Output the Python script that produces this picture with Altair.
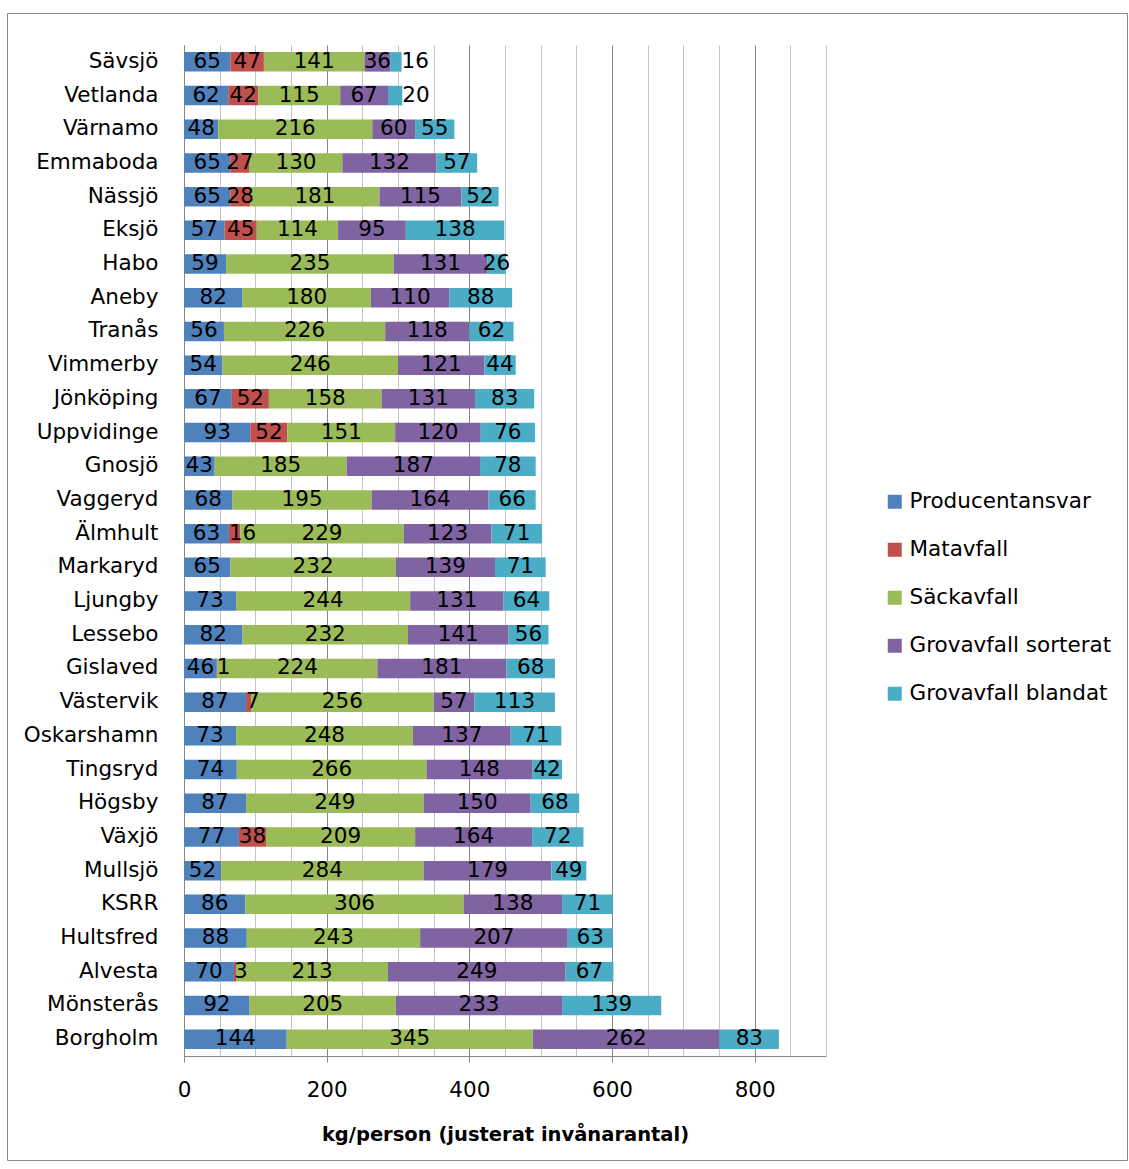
import altair as alt
import pandas as pd

# Municipalities, top to bottom
kommuner = [
    "Sävsjö", "Vetlanda", "Värnamo", "Emmaboda", "Nässjö", "Eksjö", "Habo",
    "Aneby", "Tranås", "Vimmerby", "Jönköping", "Uppvidinge", "Gnosjö",
    "Vaggeryd", "Älmhult", "Markaryd", "Ljungby", "Lessebo", "Gislaved",
    "Västervik", "Oskarshamn", "Tingsryd", "Högsby", "Växjö", "Mullsjö",
    "KSRR", "Hultsfred", "Alvesta", "Mönsterås", "Borgholm",
]

# kg per person for each waste fraction (0 = not collected)
producentansvar = [65, 62, 48, 65, 65, 57, 59, 82, 56, 54, 67, 93, 43, 68, 63,
                   65, 73, 82, 46, 87, 73, 74, 87, 77, 52, 86, 88, 70, 92, 144]
matavfall = [47, 42, 0, 27, 28, 45, 0, 0, 0, 0, 52, 52, 0, 0, 16,
             0, 0, 0, 1, 7, 0, 0, 0, 38, 0, 0, 0, 3, 0, 0]
sackavfall = [141, 115, 216, 130, 181, 114, 235, 180, 226, 246, 158, 151, 185, 195, 229,
              232, 244, 232, 224, 256, 248, 266, 249, 209, 284, 306, 243, 213, 205, 345]
grov_sorterat = [36, 67, 60, 132, 115, 95, 131, 110, 118, 121, 131, 120, 187, 164, 123,
                 139, 131, 141, 181, 57, 137, 148, 150, 164, 179, 138, 207, 249, 233, 262]
grov_blandat = [16, 20, 55, 57, 52, 138, 26, 88, 62, 44, 83, 76, 78, 66, 71,
                71, 64, 56, 68, 113, 71, 42, 68, 72, 49, 71, 63, 67, 139, 83]

serier = ["Producentansvar", "Matavfall", "Säckavfall",
          "Grovavfall sorterat", "Grovavfall blandat"]
farger = ["#4F81BD", "#C0504D", "#9BBB59", "#8064A2", "#4BACC6"]
varden = [producentansvar, matavfall, sackavfall, grov_sorterat, grov_blandat]

rows = []
for i, k in enumerate(kommuner):
    for j, (namn, vals) in enumerate(zip(serier, varden)):
        if vals[i] > 0:
            rows.append({"kommun": k, "serie": namn, "ordning": j, "kg": vals[i]})
df = pd.DataFrame(rows)

FONT = "DejaVu Sans"
FS = 21.5
major = "datum.value % 200 === 0"

y_enc = alt.Y(
    "kommun:N",
    sort=kommuner,
    scale=alt.Scale(paddingInner=0.42, paddingOuter=0.21),
    axis=alt.Axis(title=None, labelFontSize=FS, labelColor="black", labelFont=FONT,
                  ticks=False, labelPadding=26, domainColor="#868686", grid=False),
)

x_axis = alt.Axis(
    values=list(range(0, 901, 50)),
    labelExpr=f"{major} ? datum.label : ''",
    format="d",
    grid=True,
    gridColor={"condition": {"test": major, "value": "#868686"}, "value": "#c4c4c4"},
    tickOpacity={"condition": {"test": major, "value": 1}, "value": 0},
    tickColor="#868686",
    tickSize=6,
    domainColor="#868686",
    labelFontSize=FS,
    labelFont=FONT,
    labelColor="black",
    labelPadding=17,
    labelFlush=False,
    title="kg/person (justerat invånarantal)",
    titleFont=FONT,
    titleFontSize=19.5,
    titleFontWeight="bold",
    titleColor="black",
    titlePadding=25,
)
x_scale = alt.Scale(domain=[0, 900], nice=False)

base = (
    alt.Chart(df)
    .transform_stack(stack="kg", groupby=["kommun"],
                     sort=[alt.SortField("ordning")], as_=["x0", "x1"])
    .transform_calculate(mid="(datum.x0 + datum.x1) / 2")
)

bars = base.mark_bar().encode(
    x=alt.X("x0:Q", scale=x_scale, axis=x_axis),
    x2="x1:Q",
    y=y_enc,
    color=alt.Color(
        "serie:N",
        scale=alt.Scale(domain=serier, range=farger),
        legend=alt.Legend(
            title=None, orient="none", legendX=700, legendY=446,
            symbolType="square", symbolSize=196, symbolStrokeWidth=0,
            labelFontSize=FS, labelFont=FONT, labelColor="black", labelLimit=0,
            rowPadding=25, labelOffset=4,
        ),
    ),
)

small_inner = "datum.ordning < 4 && datum.kg < 20"
small_last = "datum.ordning === 4 && datum.kg < 25"

# value labels centred in each segment
labels = base.transform_filter(f"!({small_inner}) && !({small_last})").mark_text(
    fontSize=FS, font=FONT, color="black"
).encode(
    x=alt.X("mid:Q", scale=x_scale, axis=x_axis),
    y=y_enc,
    text=alt.Text("kg:Q", format="d"),
)

# narrow inner segments: label starts at the segment's left edge
labels_start = base.transform_filter(small_inner).mark_text(
    fontSize=FS, font=FONT, color="black", align="left"
).encode(
    x=alt.X("x0:Q", scale=x_scale, axis=x_axis),
    y=y_enc,
    text=alt.Text("kg:Q", format="d"),
)

# short trailing segments get their label just past the bar end
labels_end = base.transform_filter(small_last).mark_text(
    fontSize=FS, font=FONT, color="black", align="left"
).encode(
    x=alt.X("x1:Q", scale=x_scale, axis=x_axis),
    y=y_enc,
    text=alt.Text("kg:Q", format="d"),
)

# outer chart frame
frame = alt.Chart(pd.DataFrame({"r": [0]})).mark_rect(
    fill="transparent", stroke="#898989", strokeWidth=1
).encode(
    x=alt.value(-176.5), x2=alt.value(943.5),
    y=alt.value(-31.5), y2=alt.value(1115.5),
)

chart = (
    alt.layer(bars, labels, labels_start, labels_end, frame)
    .properties(
        width=642,
        height=1011,
        autosize=alt.AutoSizeParams(type="none"),
        padding={"left": 184, "top": 45, "right": 303, "bottom": 113},
        background="white",
    )
    .configure_view(strokeWidth=0)
)

chart.save("out.html", embed_options={"renderer": "svg", "actions": False})
